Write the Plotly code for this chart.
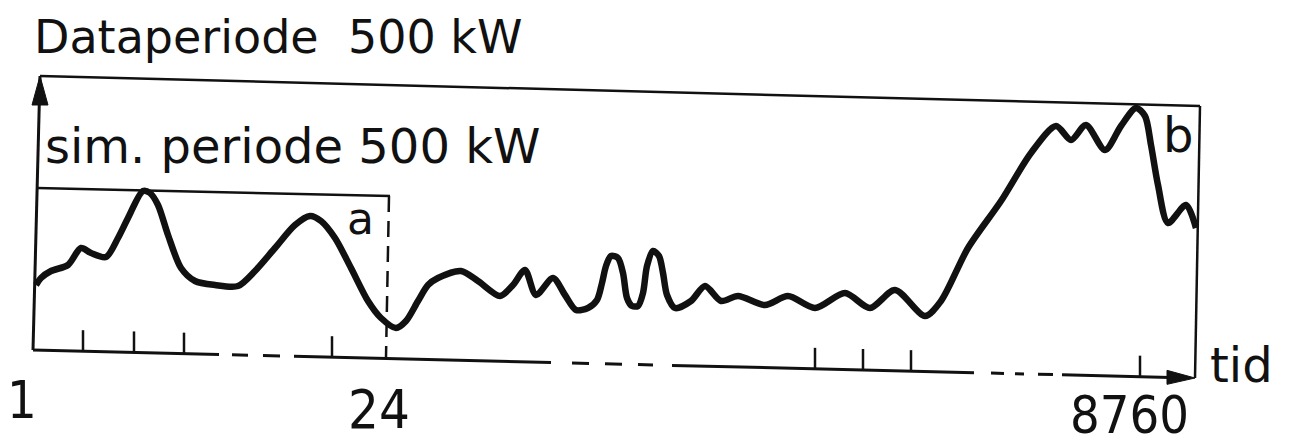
import plotly.graph_objects as go

W, H = 1291, 446

# ---- traced load curve (x = position along time axis, y = depth from top of drawing) ----
curve_x = [28, 33, 43, 60, 73, 83, 98, 110, 120, 135, 142, 150, 160, 173, 187, 207, 230,
           247, 267, 287, 302, 313, 327, 343, 360, 373, 388, 398, 410, 420, 430, 453,
           470, 492, 505, 517, 528, 545, 557, 568, 580, 589, 594, 598, 603, 610, 615,
           619, 624, 630, 635, 639, 645, 651, 655, 659, 667, 683, 697, 713, 730, 757,
           780, 807, 837, 862, 887, 917, 933, 960, 993, 1023, 1048, 1063, 1078, 1097,
           1113, 1128, 1137, 1143, 1150, 1160, 1178, 1188]
curve_y = [277, 270, 263, 257, 240, 245, 249, 230, 210, 183, 185, 197, 227, 260, 273, 277, 278,
           263, 240, 217, 208, 213, 230, 260, 293, 310, 320, 313, 293, 277, 270, 263,
           273, 288, 277, 262, 287, 270, 287, 302, 300, 292, 275, 258, 248, 250, 265,
           290, 298, 298, 285, 258, 243, 248, 265, 287, 300, 293, 278, 293, 288, 297,
           288, 300, 285, 300, 282, 308, 293, 240, 193, 145, 118, 132, 117, 142,
           118, 100, 108, 137, 177, 215, 197, 220]

# ---- frame geometry ----
y_axis = [(25, 342), (32, 68)]
outer_top = [(32, 68), (1192, 98)]
outer_right = [(1192, 98), (1187, 370)]
sim_top = [(29, 180), (382, 188)]
sim_right = [(381, 188), (378, 349)]
x_axis_start, x_axis_end = (25, 342), (1187, 370)
x_axis_solid = [(25, 211), (286, 543), (664, 966), (1054, 1162)]
x_axis_dashes = [(224, 240), (255, 272), (564, 581), (597, 614), (630, 645),
                 (983, 996), (1007, 1016), (1030, 1045)]
tick_x = [75, 126, 176, 324, 807, 855, 903, 1132]
tick_len = 21

# ---- texts ----
label_text = ["Dataperiode\u00a0\u00a0500 kW", "sim. periode\u00a0500 kW", "a", "b",
              "1", "24", "8760", "tid"]
label_x = [25, 36, 352, 1170, 14, 371, 1121, 1201]
label_y = [1, 138, 210, 127, 392, 401, 438, 357]
label_size = [46, 48, 44, 48, 52, 54, 52, 48]
label_xanchor = ["left", "left", "center", "center", "center", "center", "center", "left"]
label_yanchor = ["top", "middle", "middle", "middle", "middle", "middle", "bottom", "middle"]
label_font = ["DejaVu Sans", "DejaVu Sans", "DejaVu Sans", "DejaVu Sans",
              "Liberation Sans Narrow, DejaVu Sans Condensed, DejaVu Sans",
              "Liberation Sans Narrow, DejaVu Sans Condensed, DejaVu Sans",
              "Liberation Sans Narrow, DejaVu Sans Condensed, DejaVu Sans",
              "DejaVu Sans"]

INK = "#111111"


def axis_y(x):
    (x0, y0), (x1, y1) = x_axis_start, x_axis_end
    return y0 + (x - x0) * (y1 - y0) / (x1 - x0)


fig = go.Figure()

fig.add_trace(go.Scatter(x=curve_x, y=curve_y, mode="lines",
                         line=dict(color=INK, width=6.5, shape="spline", smoothing=0.8),
                         hoverinfo="skip", showlegend=False))

shapes = []


def seg(p, q, width=2.5, dash="solid"):
    shapes.append(dict(type="line", xref="x", yref="y", x0=p[0], y0=p[1], x1=q[0], y1=q[1],
                       line=dict(color=INK, width=width, dash=dash)))


seg(*y_axis, width=3)
seg(*outer_top, width=2.5)
seg(*outer_right, width=2.5)
seg(*sim_top, width=2.5)
seg(*sim_right, width=2.5, dash="16px,9px")
for a, b in x_axis_solid:
    seg((a, axis_y(a)), (b, axis_y(b)), width=3)
for a, b in x_axis_dashes:
    seg((a, axis_y(a)), (b, axis_y(b)), width=3)
for t in tick_x:
    seg((t, axis_y(t)), (t, axis_y(t) - tick_len), width=2.5)

# arrowheads
ax_tip = y_axis[1]
shapes.append(dict(type="path", xref="x", yref="y",
                   path=f"M {ax_tip[0]},{ax_tip[1]} L {ax_tip[0] - 8},{ax_tip[1] + 29} "
                        f"L {ax_tip[0] + 8},{ax_tip[1] + 29} Z",
                   fillcolor=INK, line=dict(color=INK, width=1)))
xt = x_axis_end
shapes.append(dict(type="path", xref="x", yref="y",
                   path=f"M {xt[0]},{xt[1]} L {xt[0] - 28},{axis_y(xt[0] - 28) - 7} "
                        f"L {xt[0] - 28},{axis_y(xt[0] - 28) + 7} Z",
                   fillcolor=INK, line=dict(color=INK, width=1)))

annotations = []
for t, x, y, s, xa, ya, f in zip(label_text, label_x, label_y, label_size,
                                 label_xanchor, label_yanchor, label_font):
    annotations.append(dict(text=t, x=x, y=y, xref="x", yref="y", showarrow=False,
                            xanchor=xa, yanchor=ya, borderpad=0,
                            font=dict(family=f, size=s, color=INK)))

fig.update_layout(
    width=W, height=H, margin=dict(l=0, r=0, t=0, b=0),
    paper_bgcolor="white", plot_bgcolor="white",
    xaxis=dict(range=[0, W], visible=False, fixedrange=True),
    yaxis=dict(range=[H, 0], visible=False, fixedrange=True),
    shapes=shapes, annotations=annotations, showlegend=False,
)

fig.write_html("out.html")
